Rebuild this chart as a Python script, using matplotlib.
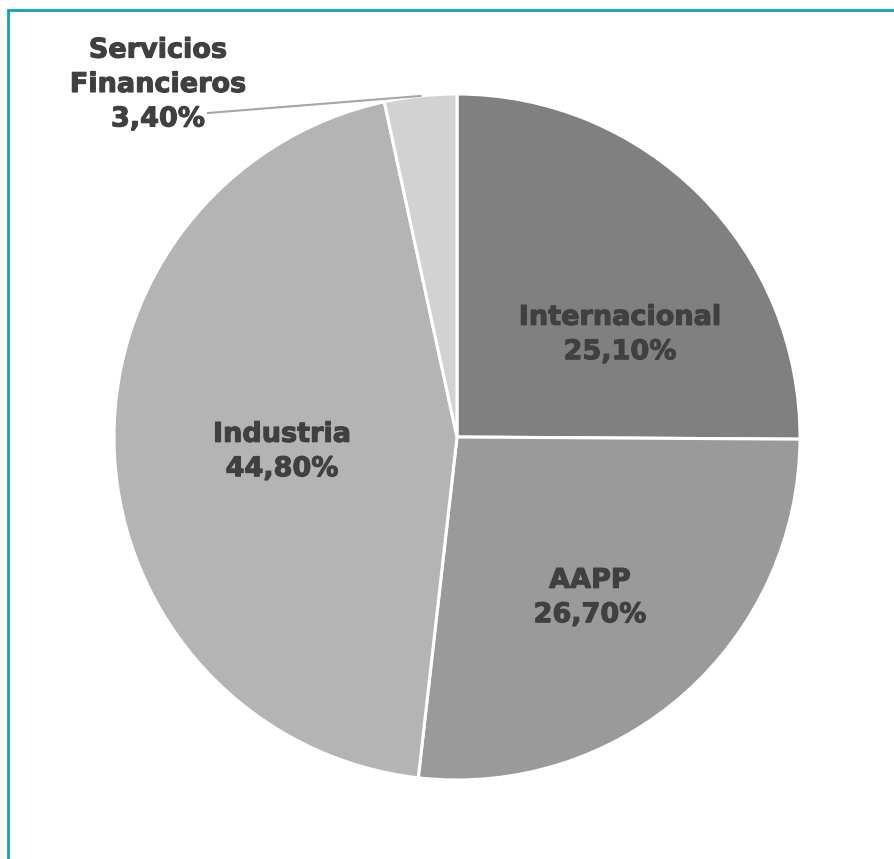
import numpy as np
import matplotlib

matplotlib.use('Agg')
import matplotlib.pyplot as plt
import matplotlib.patheffects as pe
from matplotlib.patches import Rectangle

# Datos
sectores = ["Internacional", "AAPP", "Industria", "Servicios\nFinancieros"]
valores = [25.1, 26.7, 44.8, 3.4]
colores = ["#808080", "#9a9a9a", "#b4b4b4", "#d2d2d2"]

W, H = 894, 859
fig = plt.figure(figsize=(W / 100, H / 100), dpi=100)
ax = fig.add_axes([0, 0, 1, 1])

cx, cy, R = 457, H - 437, 343
wedges, _ = ax.pie(valores, colors=colores, startangle=90, counterclock=False,
                   center=(cx, cy), radius=R, frame=True,
                   wedgeprops=dict(edgecolor="white", linewidth=2.2))
ax.set_xlim(0, W)
ax.set_ylim(0, H)
ax.set_aspect('equal')
ax.axis('off')

txt = dict(ha="center", va="center", fontsize=19.5, fontweight="bold",
           color="#404040", family="DejaVu Sans", linespacing=1.42,
           path_effects=[pe.withStroke(linewidth=0.8, foreground="#404040")])

# posiciones de las etiquetas (px, desde arriba)
pos_etiquetas = [(620, 335), (590, 598), (282, 452), (158, 85)]
for nombre, v, (px, py) in zip(sectores, valores, pos_etiquetas):
    etiqueta = f"{nombre}\n{v:.2f}%".replace(".", ",")
    ax.text(px, H - py, etiqueta, **txt)

# linea guia para Servicios Financieros
w = wedges[3]
ang = np.radians((w.theta1 + w.theta2) / 2)
ex, ey = cx + R * np.cos(ang), cy + R * np.sin(ang)
ax.plot([208, ex], [H - 113, ey], color="#a6a6a6", lw=1.5)

# marco
fig.patches.append(Rectangle((8 / W, -0.1), 1.2, (H - 10) / H + 0.1,
                             transform=fig.transFigure, fill=False,
                             edgecolor="#0aa3b5", linewidth=2))

fig.savefig("out.png", dpi=100)
